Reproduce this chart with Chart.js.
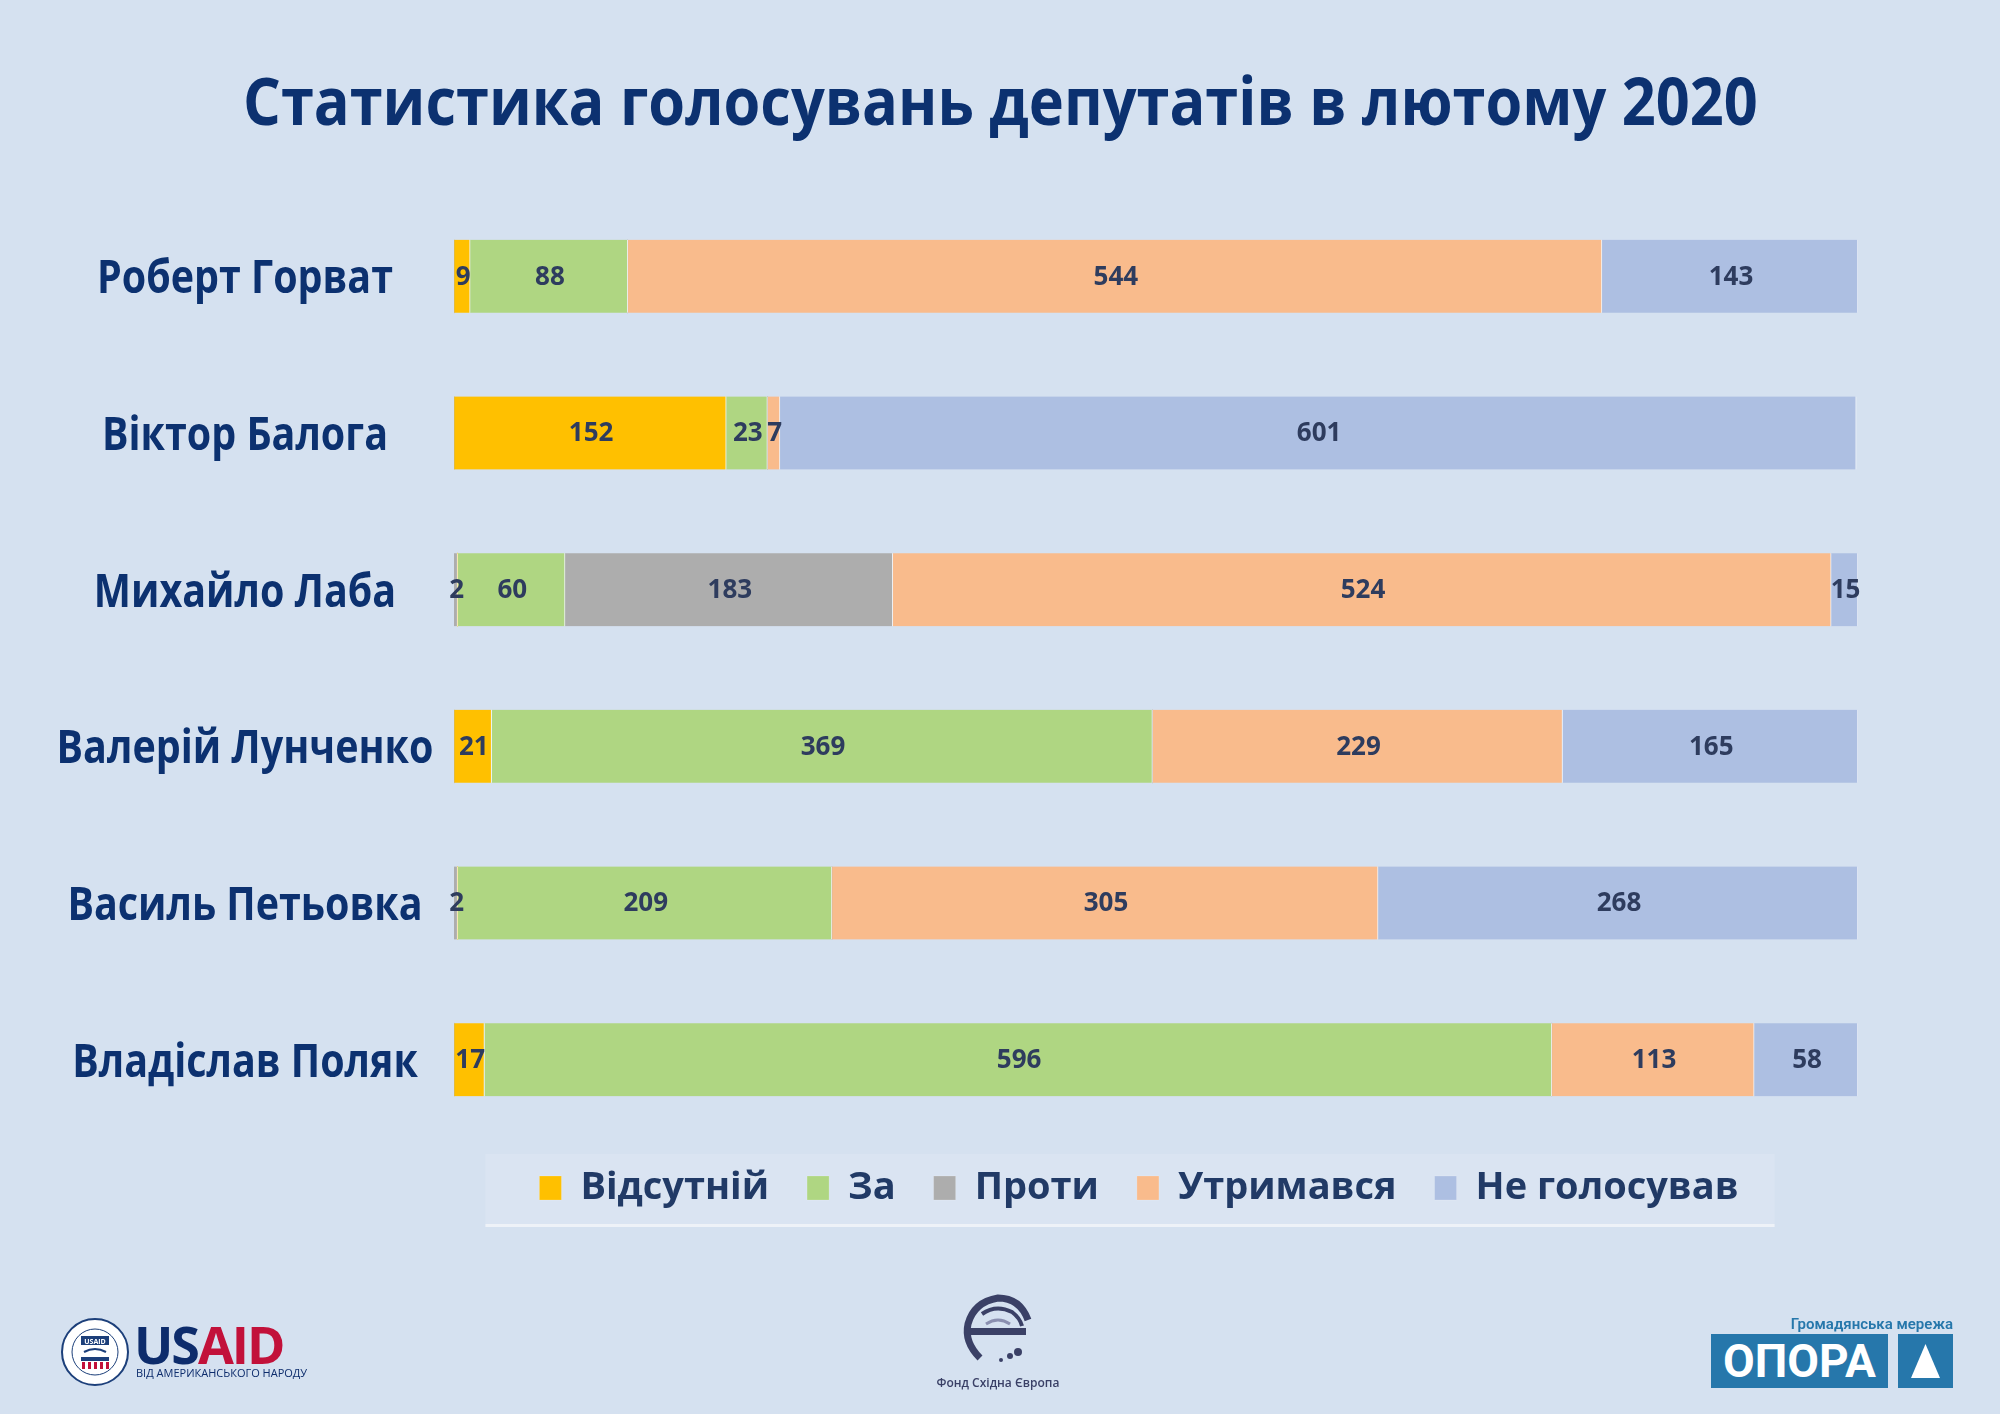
<!DOCTYPE html>
<html lang="uk">
<head>
<meta charset="utf-8">
<title>Статистика голосувань депутатів в лютому 2020</title>
<script src="https://cdn.jsdelivr.net/npm/chart.js@4.4.1/dist/chart.umd.min.js"></script>
<style>
    html, body { margin: 0; padding: 0; }
    body { width: 2000px; height: 1414px; background: #d5e1f0; position: relative; overflow: hidden; font-family: 'Open Sans', sans-serif; }
    #votesChart { position: absolute; left: 0; top: 0; }
    h1 { position: absolute; left: 0; top: 66px; width: 2000px; margin: 0; text-align: center; font: 700 67px/67px 'Open Sans', sans-serif; color: #0c3170; white-space: nowrap; }
    h1 span { display: inline-block; transform-origin: 50% 50%; }
    .usaid { position: absolute; left: 134px; top: 1318px; font: 700 52px/52px 'Open Sans', sans-serif; letter-spacing: -2px; }
    .usaid .us { color: #0d2c6c; }
    .usaid .aid { color: #c2113a; }
    .usaid-sub { position: absolute; left: 136px; top: 1367px; font: 400 11px/12px 'Open Sans', sans-serif; color: #0d2c6c; }
    .fund { position: absolute; left: 900px; width: 196px; top: 1376px; text-align: center; font: 600 12px/14px 'Open Sans', sans-serif; color: #3a4066; }
    .opora-top { position: absolute; right: 47px; top: 1316px; font: 600 15px/16px 'Roboto', sans-serif; color: #2677ab; }
    .opora { position: absolute; left: 1711px; top: 1334px; width: 177px; height: 54px; background: #2677ab; color: #fff; font: 700 46px/54px 'Roboto', sans-serif; text-align: center; }
    .opora-tri { position: absolute; left: 1898px; top: 1334px; width: 55px; height: 54px; background: #2677ab; }
</style>
</head>
<body>
<h1><span id="title">Статистика голосувань депутатів в лютому 2020</span></h1>
<canvas id="votesChart" width="2000" height="1414"></canvas>

<svg style="position:absolute;left:60px;top:1317px" width="70" height="70" viewBox="0 0 70 70">
    <circle cx="35" cy="35" r="33" fill="#ffffff" stroke="#1c3f7a" stroke-width="2"/>
    <circle cx="35" cy="35" r="23" fill="#ffffff" stroke="#1c3f7a" stroke-width="1"/>
    <rect x="21" y="19" width="28" height="9" fill="#1c3f7a"/>
    <text x="35" y="26.5" font-size="7" font-weight="700" fill="#ffffff" text-anchor="middle" font-family="Open Sans">USAID</text>
    <path d="M24 35 Q35 29 46 35" stroke="#1c3f7a" stroke-width="2" fill="none"/>
    <rect x="21" y="40" width="28" height="4" fill="#1c3f7a"/>
    <rect x="22" y="45" width="3" height="7" fill="#c2113a"/>
    <rect x="28" y="45" width="3" height="7" fill="#c2113a"/>
    <rect x="34" y="45" width="3" height="7" fill="#c2113a"/>
    <rect x="40" y="45" width="3" height="7" fill="#c2113a"/>
    <rect x="46" y="45" width="3" height="7" fill="#c2113a"/>
</svg>
<div class="usaid"><span class="us">US</span><span class="aid">AID</span></div>
<div class="usaid-sub">ВІД АМЕРИКАНСЬКОГО НАРОДУ</div>

<svg style="position:absolute;left:958px;top:1290px" width="80" height="80" viewBox="0 0 80 80">
    <path d="M22 68 Q6 52 10 34 Q16 12 40 8 Q62 8 70 30" stroke="#3a4066" stroke-width="7" fill="none"/>
    <path d="M24 24 Q38 14 54 22 Q62 28 64 36" stroke="#3a4066" stroke-width="4" fill="none"/>
    <path d="M28 34 Q40 26 52 34" stroke="#8a8fb0" stroke-width="3" fill="none"/>
    <rect x="10" y="38" width="58" height="7" fill="#3a4066"/>
    <circle cx="52" cy="66" r="3" fill="#3a4066"/>
    <circle cx="60" cy="62" r="4" fill="#3a4066"/>
    <circle cx="43" cy="70" r="2" fill="#3a4066"/>
</svg>
<div class="fund">Фонд Східна Європа</div>

<div class="opora-top">Громадянська мережа</div>
<div class="opora">ОПОРА</div>
<div class="opora-tri">
    <svg width="55" height="54" viewBox="0 0 55 54"><path d="M27.5 10 L42 44 L13 44 Z" fill="#ffffff"/></svg>
</div>

<script>
// Voting statistics, February 2020
const deputies = ['Роберт Горват', 'Віктор Балога', 'Михайло Лаба', 'Валерій Лунченко', 'Василь Петьовка', 'Владіслав Поляк'];
const leadGrey = [0, 0, 2, 0, 2, 0];
const absent = [9, 152, 0, 21, 0, 17];
const votedFor = [88, 23, 60, 369, 209, 596];
const against = [0, 0, 183, 0, 0, 0];
const abstained = [544, 7, 524, 229, 305, 113];
const notVoted = [143, 601, 15, 165, 268, 58];
const seriesNames = ['Відсутній', 'За', 'Проти', 'Утримався', 'Не голосував'];
const axisMax = 784;

const seriesColors = ['#ffc000', '#afd682', '#adadad', '#f9bb8c', '#adbfe2'];
const NAVY = '#0c3170';

// squeeze the title to the width of the original
const titleEl = document.getElementById('title');
titleEl.style.transform = 'scaleX(' + (1515 / titleEl.offsetWidth) + ')';

const segment = (label, data, color) => ({
    label, data,
    backgroundColor: color,
    borderColor: 'rgba(255,255,255,0.7)',
    borderWidth: { left: 0, right: 1, top: 0, bottom: 0 },
    borderSkipped: false,
    barThickness: 73
});

// move the legend a bit up/left so it sits like in the original
const legendShift = {
    id: 'legendShift',
    afterLayout(chart) {
        const lg = chart.legend;
        lg.top -= 7; lg.bottom -= 7;
        lg.left -= 17; lg.right -= 17;
    }
};

// legend panel behind the legend items
const legendPanel = {
    id: 'legendPanel',
    beforeDraw(chart) {
        const boxes = chart.legend.legendHitBoxes;
        if (!boxes || !boxes.length) return;
        const last = boxes[boxes.length - 1];
        const x0 = boxes[0].left - 54, x1 = last.left + last.width + 36;
        const cy = boxes[0].top + boxes[0].height / 2;
        const { ctx } = chart;
        ctx.save();
        ctx.fillStyle = '#dae4f2';
        ctx.fillRect(x0, cy - 34, x1 - x0, 70);
        ctx.fillStyle = '#eef2f8';
        ctx.fillRect(x0, cy + 36, x1 - x0, 3);
        ctx.restore();
    }
};

// numbers inside the segments
const segmentValues = {
    id: 'segmentValues',
    afterDatasetsDraw(chart) {
        const { ctx } = chart;
        ctx.save();
        ctx.font = '700 26px "Open Sans", sans-serif';
        ctx.fillStyle = '#2e3c5e';
        ctx.textAlign = 'center';
        ctx.textBaseline = 'middle';
        chart.data.datasets.forEach((ds, i) => {
            chart.getDatasetMeta(i).data.forEach((bar, j) => {
                const v = ds.data[j];
                if (!v) return;
                ctx.fillText(String(v), (bar.x + bar.base) / 2 + 1, bar.y + 1);
            });
        });
        ctx.restore();
    }
};

// deputy names, centered left of the bars
const deputyNames = {
    id: 'deputyNames',
    afterDraw(chart) {
        const { ctx } = chart;
        const yScale = chart.scales.y;
        ctx.save();
        ctx.font = '700 46px "Open Sans", sans-serif';
        ctx.fillStyle = NAVY;
        ctx.textAlign = 'center';
        ctx.textBaseline = 'middle';
        const sx = 296 / ctx.measureText(deputies[0]).width;
        deputies.forEach((name, i) => {
            const y = yScale.getPixelForValue(i);
            ctx.save();
            ctx.translate(245, y + 4);
            ctx.scale(sx, 1);
            ctx.fillText(name, 0, 0);
            ctx.restore();
        });
        ctx.restore();
    }
};

new Chart(document.getElementById('votesChart'), {
    type: 'bar',
    data: {
        labels: deputies,
        datasets: [
            segment('', leadGrey, seriesColors[2]),
            segment(seriesNames[0], absent, seriesColors[0]),
            segment(seriesNames[1], votedFor, seriesColors[1]),
            segment(seriesNames[2], against, seriesColors[2]),
            segment(seriesNames[3], abstained, seriesColors[3]),
            segment(seriesNames[4], notVoted, seriesColors[4])
        ]
    },
    options: {
        indexAxis: 'y',
        responsive: false,
        animation: false,
        devicePixelRatio: 1,
        layout: { padding: { left: 454, right: 142, top: 198, bottom: 190 } },
        scales: {
            x: { stacked: true, min: 0, max: axisMax, display: false },
            y: { stacked: true, display: false }
        },
        plugins: {
            tooltip: { enabled: false },
            legend: {
                position: 'bottom',
                labels: {
                    filter: item => item.datasetIndex > 0,
                    boxWidth: 22,
                    boxHeight: 24,
                    padding: 38,
                    color: '#213a66',
                    font: { family: '"Open Sans", sans-serif', size: 38, weight: '700' }
                }
            }
        }
    },
    plugins: [legendShift, legendPanel, segmentValues, deputyNames]
});
</script>
</body>
</html>
